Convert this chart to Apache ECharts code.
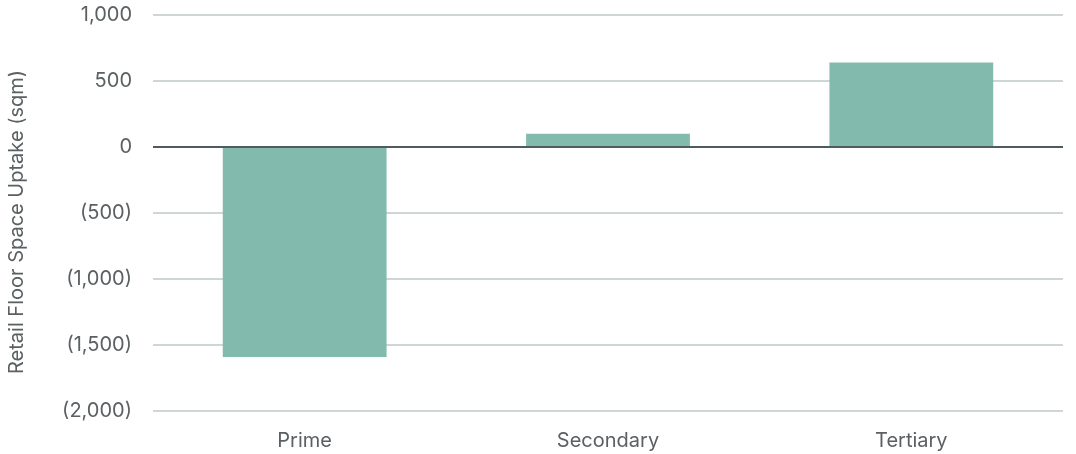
<!DOCTYPE html>
<html>
<head>
<meta charset="utf-8">
<script src="https://cdn.jsdelivr.net/npm/echarts@6/dist/echarts.min.js"></script>
<style>
  html, body { margin: 0; padding: 0; background: #fff; }
  #chart { width: 1076px; height: 454px; }
</style>
</head>
<body>
<div id="chart"></div>
<script>
const categories = ["Prime", "Secondary", "Tertiary"];
const uptake = [-1590, 100, 640];
const yMin = -2000, yMax = 1000, yStep = 500;

// negatives shown in brackets, accounting style
const fmt = (v) => {
  const s = Math.abs(v).toLocaleString("en-US");
  return v < 0 ? "(" + s + ")" : s;
};

const chart = echarts.init(document.getElementById("chart"));
chart.setOption({
  animation: false,
  textStyle: { fontFamily: "Inter, Roboto, sans-serif" },
  grid: { left: 153, right: 13, top: 15, bottom: 43, outerBoundsMode: "none" },
  xAxis: {
    type: "category",
    data: categories,
    axisTick: { show: false },
    axisLine: { show: false },
    axisLabel: { color: "#5b6163", fontSize: 20, margin: 20 },
  },
  yAxis: {
    type: "value",
    min: yMin,
    max: yMax,
    interval: yStep,
    name: "Retail Floor Space Uptake (sqm)",
    nameLocation: "middle",
    nameGap: 126,
    nameTextStyle: { color: "#5b6163", fontSize: 20, padding: [0, 18, 0, 0] },
    axisLine: { show: false },
    axisTick: { show: false },
    axisLabel: { color: "#5b6163", fontSize: 20, margin: 21, formatter: fmt },
    splitLine: { lineStyle: { color: "#cfd6d6", width: 2 } },
  },
  series: [
    {
      type: "bar",
      data: uptake,
      barWidth: "54%",
      itemStyle: { color: "#82bbad" },
      markLine: {
        silent: true,
        symbol: "none",
        label: { show: false },
        lineStyle: { color: "#4f5b5f", width: 2, type: "solid" },
        data: [{ yAxis: 0 }],
      },
    },
  ],
});
</script>
</body>
</html>
